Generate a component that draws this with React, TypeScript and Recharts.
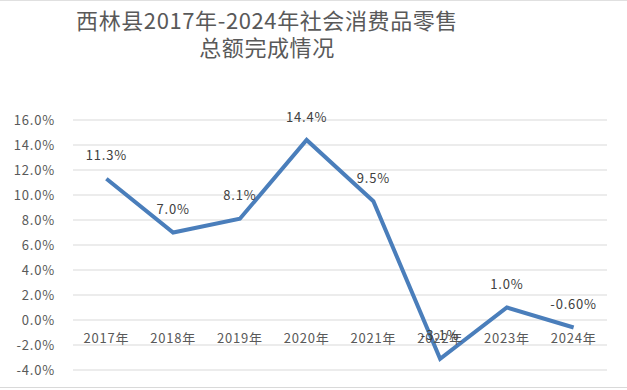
import React from 'react';
import { LineChart, Line, XAxis, YAxis, CartesianGrid, LabelList } from 'recharts';

const years = ['2017年', '2018年', '2019年', '2020年', '2021年', '2022年', '2023年', '2024年'];
const growth = [11.3, 7.0, 8.1, 14.4, 9.5, -3.1, 1.0, -0.6];
const growthLabels = ['11.3%', '7.0%', '8.1%', '14.4%', '9.5%', '-3.1%', '1.0%', '-0.60%'];
const yTicks = [-4, -2, 0, 2, 4, 6, 8, 10, 12, 14, 16];
const axisBase = [0, 0, 0, 0, 0, 0, 0, 0];

const data = years.map((y, i) => ({ year: y, value: growth[i], label: growthLabels[i], base: axisBase[i] }));

const FONT = '"Noto Sans CJK SC", "Noto Sans", sans-serif';

const ValueLabel = (props: any) => {
  const { x, y, index } = props;
  return (
    <text x={x} y={y - 22} textAnchor="middle" dominantBaseline="middle" fontSize={13} fill="#404040" fontFamily={FONT} letterSpacing={0.8}>
      {growthLabels[index]}
    </text>
  );
};

const YearLabel = (props: any) => {
  const { x, y, index } = props;
  return (
    <text x={x} y={y + 19} textAnchor="middle" dominantBaseline="middle" fontSize={13} fill="#595959" fontFamily={FONT} letterSpacing={0.8}>
      {years[index]}
    </text>
  );
};

export default function App() {
  return (
    <div style={{ position: 'absolute', left: 0, top: 0, width: 627, height: 390, background: '#fff', fontFamily: FONT }}>
      <div style={{ position: 'absolute', left: 0, top: 0, width: 627, borderTop: '1px solid #e0e0e0' }} />
      <div style={{ position: 'absolute', left: 37, top: 8, width: 460, textAlign: 'center', fontSize: 22, lineHeight: '22px', color: '#595959', letterSpacing: 0.6, whiteSpace: 'nowrap' }}>
        西林县2017年-2024年社会消费品零售
      </div>
      <div style={{ position: 'absolute', left: 37, top: 35, width: 460, textAlign: 'center', fontSize: 22, lineHeight: '22px', color: '#595959', letterSpacing: 0.6, whiteSpace: 'nowrap' }}>
        总额完成情况
      </div>
      <div style={{ position: 'absolute', left: 0, top: 387, width: 627, borderTop: '1px solid #d9d9d9' }} />
      <LineChart width={627} height={390} data={data} margin={{ top: 120, right: 20, bottom: 20, left: 0 }}>
        <CartesianGrid vertical={false} stroke="#d9d9d9" strokeWidth={1} />
        <XAxis dataKey="year" hide scale="band" />
        <YAxis
          width={73}
          domain={[-4, 16]}
          ticks={yTicks}
          interval={0}
          axisLine={false}
          tickLine={false}
          tickMargin={12}
          tickFormatter={(v: number) => `${v.toFixed(1)}%`}
          tick={{ fontSize: 13, fill: '#595959', fontFamily: FONT, letterSpacing: 0.8 }}
        />
        <Line dataKey="base" stroke="none" dot={false} activeDot={false} isAnimationActive={false}>
          <LabelList dataKey="base" content={YearLabel} />
        </Line>
        <Line dataKey="value" stroke="#4a7ebb" strokeWidth={4} dot={false} activeDot={false} isAnimationActive={false} strokeLinejoin="miter">
          <LabelList dataKey="label" content={ValueLabel} />
        </Line>
      </LineChart>
    </div>
  );
}
